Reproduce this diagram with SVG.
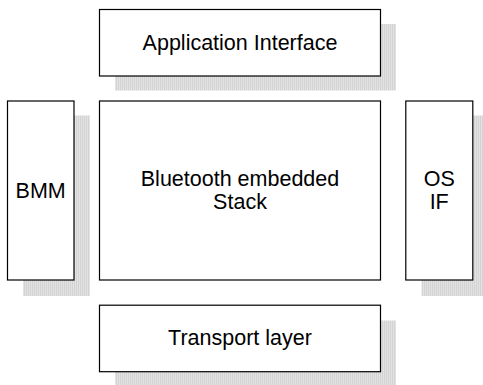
<svg xmlns="http://www.w3.org/2000/svg" width="483" height="385" viewBox="0 0 483 385">
  <defs>
    <pattern id="stripes" x="0" y="0" width="2" height="4" patternUnits="userSpaceOnUse">
      <rect x="0" y="0" width="1" height="4" fill="#d3d3d3"/>
      <rect x="1" y="0" width="1" height="4" fill="#e3e3e3"/>
    </pattern>
  </defs>
  <style>
    .box { fill: #ffffff; stroke: #000000; stroke-width: 1.2; }
    .shadow { fill: url(#stripes); stroke: none; }
    .label { font-family: "Liberation Sans", Arial, sans-serif; font-size: 21.5px; fill: #000000; text-anchor: middle; }
  </style>
  <rect width="483" height="385" fill="#ffffff"/>

  <g id="app-interface">
    <rect class="shadow" x="115" y="24" width="281" height="66.5"/>
    <rect class="box" x="99.5" y="9.5" width="281" height="66.5"/>
    <text class="label" x="240" y="49.5">Application Interface</text>
  </g>

  <g id="bmm">
    <rect class="shadow" x="23" y="115.5" width="67" height="180.5"/>
    <rect class="box" x="7.5" y="101" width="66.5" height="179"/>
    <text class="label" x="40.7" y="197.5">BMM</text>
  </g>

  <g id="bt-stack">
    <rect class="box" x="99.5" y="101" width="281" height="179"/>
    <text class="label" x="240" y="186">Bluetooth embedded</text>
    <text class="label" x="240" y="209.3">Stack</text>
  </g>

  <g id="os-if">
    <rect class="shadow" x="421.5" y="115.5" width="67" height="180.5"/>
    <rect class="box" x="405.8" y="101" width="67" height="179"/>
    <text class="label" x="439.2" y="185.5">OS</text>
    <text class="label" x="439.2" y="208.5">IF</text>
  </g>

  <g id="transport">
    <rect class="shadow" x="115" y="320.5" width="281" height="66.5"/>
    <rect class="box" x="99.5" y="305.2" width="281" height="66.5"/>
    <text class="label" x="240" y="345.3">Transport layer</text>
  </g>
</svg>
